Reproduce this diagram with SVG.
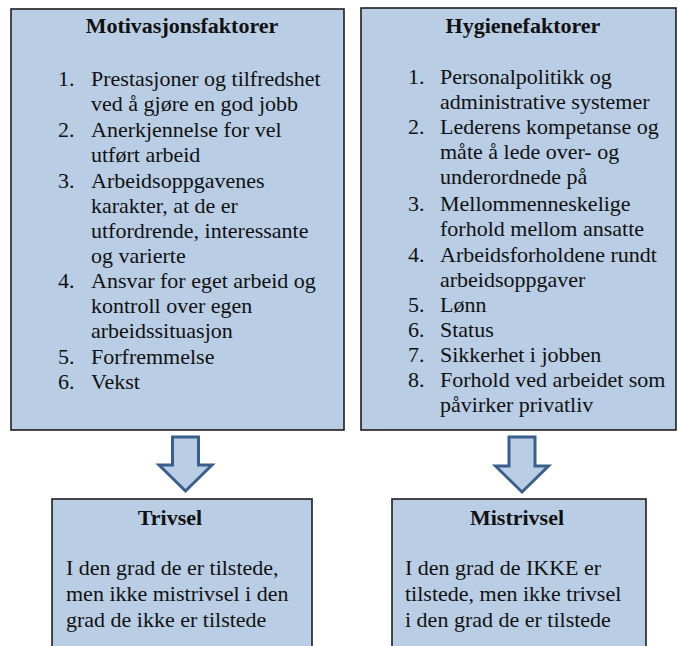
<svg xmlns="http://www.w3.org/2000/svg" width="678" height="646" viewBox="0 0 678 646">
<style>
.box{fill:#b9cde5;stroke:#1e1e1e;stroke-width:1.6}
.arrow{fill:#b9cde5;stroke:#3b5f8c;stroke-width:3;stroke-linejoin:miter}
text{font-family:'Liberation Serif','Times New Roman',Times,'DejaVu Serif',serif;font-size:22px;fill:#111}
.h{font-weight:bold;text-anchor:middle}
</style>
<rect width="678" height="646" fill="#ffffff"/>
<g id="motivasjonsfaktorer">
<rect class="box" x="11" y="9" width="333" height="421"/>
<text class="h" x="182" y="33">Motivasjonsfaktorer</text>
<text x="58" y="86">1.</text><text x="91" y="86">Prestasjoner og tilfredshet</text>
<text x="91" y="111">ved å gjøre en god jobb</text>
<text x="58" y="137">2.</text><text x="91" y="137">Anerkjennelse for vel</text>
<text x="91" y="162">utført arbeid</text>
<text x="58" y="188">3.</text><text x="91" y="188">Arbeidsoppgavenes</text>
<text x="91" y="213">karakter, at de er</text>
<text x="91" y="238">utfordrende, interessante</text>
<text x="91" y="263">og varierte</text>
<text x="58" y="288">4.</text><text x="91" y="288">Ansvar for eget arbeid og</text>
<text x="91" y="313">kontroll over egen</text>
<text x="91" y="338">arbeidssituasjon</text>
<text x="58" y="364">5.</text><text x="91" y="364">Forfremmelse</text>
<text x="58" y="389">6.</text><text x="91" y="389">Vekst</text>
</g>
<g id="hygienefaktorer">
<rect class="box" x="361" y="8" width="315" height="422"/>
<text class="h" x="523" y="33">Hygienefaktorer</text>
<text x="408" y="84">1.</text><text x="440" y="84">Personalpolitikk og</text>
<text x="440" y="109">administrative systemer</text>
<text x="408" y="134">2.</text><text x="440" y="134">Lederens kompetanse og</text>
<text x="440" y="159">måte å lede over- og</text>
<text x="440" y="184">underordnede på</text>
<text x="408" y="211">3.</text><text x="440" y="211">Mellommenneskelige</text>
<text x="440" y="236">forhold mellom ansatte</text>
<text x="408" y="262">4.</text><text x="440" y="262">Arbeidsforholdene rundt</text>
<text x="440" y="287">arbeidsoppgaver</text>
<text x="408" y="312">5.</text><text x="440" y="312">Lønn</text>
<text x="408" y="337">6.</text><text x="440" y="337">Status</text>
<text x="408" y="362">7.</text><text x="440" y="362">Sikkerhet i jobben</text>
<text x="408" y="387">8.</text><text x="440" y="387">Forhold ved arbeidet som</text>
<text x="440" y="412">påvirker privatliv</text>
</g>
<g id="connectors">
<polygon class="arrow" points="172.5,437 198.5,437 198.5,465 212,465 185.5,491 159,465 172.5,465"/>
<polygon class="arrow" points="509,437 535,437 535,466 548.5,466 522,492 495.5,466 509,466"/>
</g>
<g id="trivsel">
<rect class="box" x="52" y="499" width="260" height="170"/>
<text class="h" x="170" y="525">Trivsel</text>
<text x="66" y="575">I den grad de er tilstede,</text>
<text x="66" y="601">men ikke mistrivsel i den</text>
<text x="66" y="627">grad de ikke er tilstede</text>
</g>
<g id="mistrivsel">
<rect class="box" x="392" y="499" width="254" height="170"/>
<text class="h" x="517" y="525">Mistrivsel</text>
<text x="405" y="575">I den grad de IKKE er</text>
<text x="405" y="601">tilstede, men ikke trivsel</text>
<text x="405" y="627">i den grad de er tilstede</text>
</g>
</svg>
